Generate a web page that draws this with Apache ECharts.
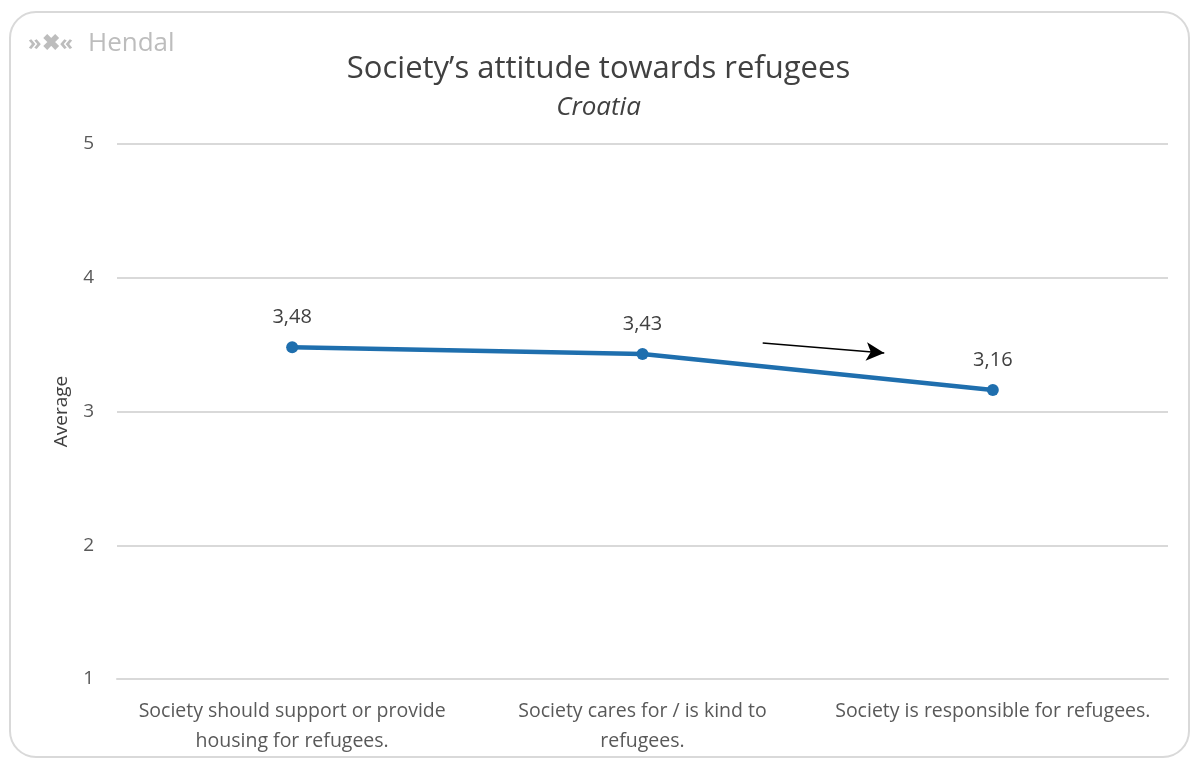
<!DOCTYPE html>
<html><head><meta charset="utf-8">
<script src="https://cdn.jsdelivr.net/npm/echarts@6/dist/echarts.min.js"></script>
<style>html,body{margin:0;padding:0;background:#fff}#c{width:1197px;height:763px}</style>
</head><body><div id="c"></div>
<script>
const categories = ["Society should support or provide\nhousing for refugees.", "Society cares for / is kind to\nrefugees.", "Society is responsible for refugees."];
const values = [3.48, 3.43, 3.16];
const yTicks = [1, 2, 3, 4, 5];
const arrowStart = [1.343, 3.512];
const arrowEnd = [1.69, 3.437];

const chart = echarts.init(document.getElementById('c'));
const font = '"Open Sans", "Liberation Sans", sans-serif';
chart.setOption({
  animation: false,
  backgroundColor: '#fff',
  title: {
    text: 'Society\u2019s attitude towards refugees',
    subtext: 'Croatia',
    left: 'center', top: 49, itemGap: 10,
    textStyle: { fontFamily: font, fontSize: 31, fontWeight: 'normal', color: '#404040' },
    subtextStyle: { fontFamily: font, fontSize: 26, fontStyle: 'italic', color: '#404040' }
  },
  graphic: [
    { type: 'rect', shape: { x: 10, y: 12, width: 1179, height: 745, r: 26 }, style: { fill: 'none', stroke: '#d9d9d9', lineWidth: 2 }, silent: true },
    { type: 'text', left: 28, top: 33, style: { text: '\u00bb\u2716\u00ab', fontSize: 22, fontWeight: 'bold', fill: '#bdbdbd', fontFamily: font } },
    { type: 'text', left: 88, top: 31, style: { text: 'Hendal', fontSize: 26, fill: '#bdbdbd', fontFamily: font } }
  ],
  grid: { left: 117, right: 29, top: 144, bottom: 84 },
  xAxis: [{
    type: 'category', data: categories,
    axisLine: { lineStyle: { color: '#d9d9d9', width: 2 } },
    axisTick: { show: false },
    axisLabel: { fontFamily: font, fontSize: 19.5, color: '#595959', margin: 17, lineHeight: 30, interval: 0 }
  }, {
    type: 'value', min: -0.5, max: 2.5, show: false
  }],
  yAxis: {
    type: 'value', min: yTicks[0], max: yTicks[yTicks.length - 1], interval: 1,
    name: 'Average', nameLocation: 'middle', nameGap: 46,
    nameTextStyle: { fontFamily: font, fontSize: 19, color: '#404040' },
    axisLine: { show: false }, axisTick: { show: false },
    axisLabel: { fontFamily: font, fontSize: 19, color: '#595959', margin: 23 },
    splitLine: { lineStyle: { color: '#d9d9d9', width: 2 } }
  },
  series: [{
    type: 'line', data: values,
    symbol: 'circle', symbolSize: 12,
    lineStyle: { color: '#1f6fae', width: 4.5 },
    itemStyle: { color: '#1f6fae' },
    label: { show: true, position: 'top', distance: 14, fontFamily: font, fontSize: 20, color: '#404040',
      formatter: p => p.value.toFixed(2).replace('.', ',') }
  }, {
    type: 'line', xAxisIndex: 1, data: [], silent: true,
    markLine: {
      silent: true, symbol: ['none', 'arrow'], symbolSize: [14, 18],
      label: { show: false },
      lineStyle: { color: '#000', width: 1.5, type: 'solid' },
      data: [[{ coord: arrowStart }, { coord: arrowEnd }]]
    }
  }]
});
</script></body></html>
